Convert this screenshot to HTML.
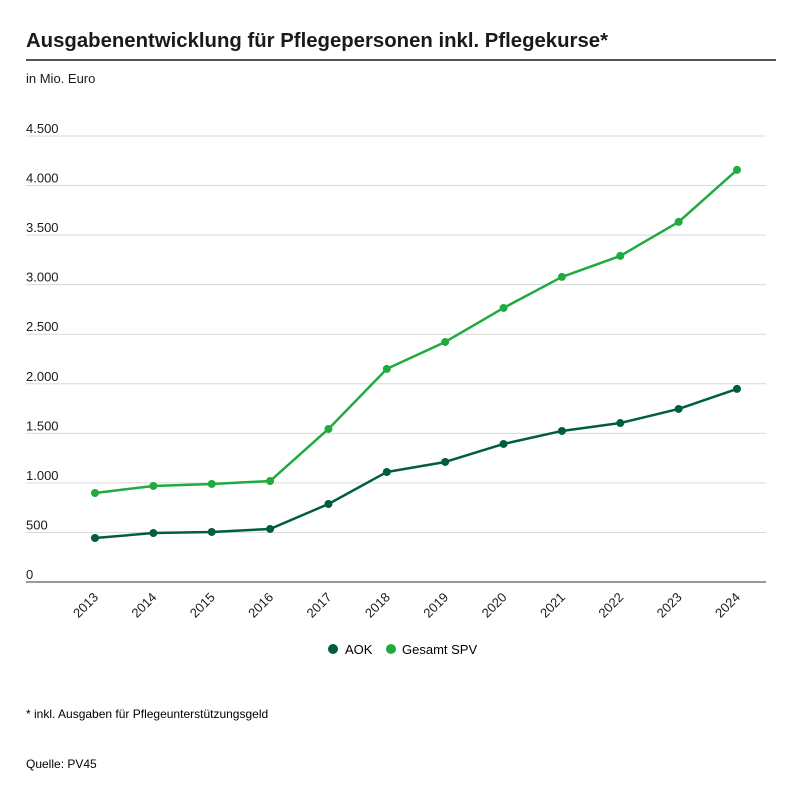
<!DOCTYPE html>
<html><head><meta charset="utf-8">
<style>
body{margin:0;background:#fff;font-family:"Liberation Sans",sans-serif;color:#1a1a1a}
#wrap{position:relative;width:800px;height:798px}
</style></head>
<body>
<div id="wrap">
<svg id="chart" width="800" height="798"></svg>
</div>
<script>
const years=["2013","2014","2015","2016","2017","2018","2019","2020","2021","2022","2023","2024"];
const aok=[444,494,505,535,787,1110,1211,1393,1524,1604,1746,1948];
const spv=[898,969,989,1019,1544,2150,2422,2765,3078,3290,3633,4158];
const yTicks=[0,500,1000,1500,2000,2500,3000,3500,4000,4500];
const yTickLabels=["0","500","1.000","1.500","2.000","2.500","3.000","3.500","4.000","4.500"];
const NS="http://www.w3.org/2000/svg";
const svg=document.getElementById('chart');
function el(t,a,p){const e=document.createElementNS(NS,t);for(const k in a)e.setAttribute(k,a[k]);(p||svg).appendChild(e);return e;}
const y=v=>582-v*(446/4500);
const x=i=>95+i*(737-95)/(years.length-1);
let t=el('text',{x:26,y:47,'font-size':20,'font-weight':'bold',fill:'#1a1a1a',textLength:582,lengthAdjust:'spacingAndGlyphs'});t.textContent='Ausgabenentwicklung für Pflegepersonen inkl. Pflegekurse*';

let l=el('line',{x1:26,x2:776,y1:60,y2:60,stroke:'#1a1a1a','stroke-width':1.5});

t=el('text',{x:26,y:83,'font-size':13,fill:'#1a1a1a'});t.textContent='in Mio. Euro';

yTicks.forEach((v,i)=>{
 const g=el('line',{x1:26,x2:766,y1:y(v),y2:y(v),stroke:v===0?'#333':'#d9d9d9','stroke-width':1});
 
 const tx=el('text',{x:26,y:y(v)-3,'font-size':13,fill:'#1a1a1a'});tx.textContent=yTickLabels[i];
 
});
years.forEach((yr,i)=>{
 const tx=el('text',{x:x(i)+4,y:598,'font-size':13,fill:'#1a1a1a','text-anchor':'end',transform:`rotate(-45 ${x(i)+4} 598)`});
 tx.textContent=yr;
});
function series(data,color,name){
 const p=el('polyline',{points:data.map((v,i)=>x(i)+','+y(v)).join(' '),fill:'none',stroke:color,'stroke-width':2.5,'stroke-linejoin':'round'});
 
 data.forEach((v,i)=>{const c=el('circle',{cx:x(i),cy:y(v),r:4,fill:color});
  });
}
series(spv,'#1fab3e','spv');
series(aok,'#005e3c','aok');
let c=el('circle',{cx:333,cy:649,r:5,fill:'#005e3c'});
t=el('text',{x:345,y:654,'font-size':13});t.textContent='AOK';
c=el('circle',{cx:391,cy:649,r:5,fill:'#1fab3e'});
t=el('text',{x:402,y:654,'font-size':13});t.textContent='Gesamt SPV';
t=el('text',{x:26,y:718,'font-size':12});t.textContent='* inkl. Ausgaben für Pflegeunterstützungsgeld';
t=el('text',{x:26,y:768,'font-size':12});t.textContent='Quelle: PV45';
</script>
</body></html>
